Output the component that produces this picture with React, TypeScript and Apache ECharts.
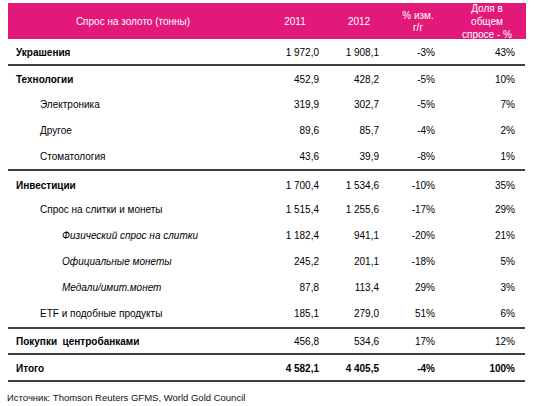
import React, { useEffect, useRef } from "react";
import * as echarts from "echarts";

const headerLabels = ["Спрос на золото (тонны)", "2011", "2012", "% изм.\nг/г", "Доля в\nобщем\nспросе - %"];
const categories = [
  "Украшения",
  "Технологии",
  "Электроника",
  "Другое",
  "Стоматология",
  "Инвестиции",
  "Спрос на слитки и монеты",
  "Физический спрос на слитки",
  "Официальные монеты",
  "Медали/имит.монет",
  "ETF и подобные продукты",
  "Покупки  центробанками",
  "Итого",
];
const levels = [0, 0, 1, 1, 1, 0, 1, 2, 2, 2, 1, 0, 0];
const values2011 = [1972.0, 452.9, 319.9, 89.6, 43.6, 1700.4, 1515.4, 1182.4, 245.2, 87.8, 185.1, 456.8, 4582.1];
const values2012 = [1908.1, 428.2, 302.7, 85.7, 39.9, 1534.6, 1255.6, 941.1, 201.1, 113.4, 279.0, 534.6, 4405.5];
const changePct = [-3, -5, -5, -4, -8, -10, -17, -20, -18, 29, 51, 17, -4];
const sharePct = [43, 10, 7, 2, 1, 35, 29, 21, 5, 3, 6, 12, 100];
const totalRowIndex = 12;
const sourceNote = "Источник: Thomson Reuters GFMS, World Gold Council";

const fmtNum = (v: number) => {
  const [i, d] = v.toFixed(1).split(".");
  return i.replace(/\B(?=(\d{3})+(?!\d))/g, " ") + "," + d;
};
const fmtPct = (v: number) => `${v}%`;

// layout
const ROW_Y = [52, 79, 104.5, 130.5, 156.5, 185, 209, 235, 261, 287, 313.5, 341.5, 368];
const RULE_Y = [65, 170, 328, 354, 381];
const COL_RIGHT = [319, 379, 435, 515];
const HEADER_X = [133, 295, 359, 418, 487];
const INDENT_X = [16, 40, 62];
const FONT = 'Arial, "Liberation Sans", sans-serif';
const PINK = "#E2197A";

function txt(x: number, y: number, text: string, opts: any = {}) {
  const align = opts.align || "left";
  return {
    type: "text",
    x,
    y,
    silent: true,
    style: {
      text,
      fill: opts.fill || "#000",
      font: `${opts.italic ? "italic " : ""}${opts.bold ? "bold " : ""}${opts.size || 10}px ${FONT}`,
      align,
      textAlign: align,
      verticalAlign: "middle",
      textVerticalAlign: "middle",
      lineHeight: opts.lineHeight || 12.5,
    },
  };
}

export default function App() {
  const ref = useRef<HTMLDivElement>(null);
  useEffect(() => {
    if (!ref.current) return;
    const chart = echarts.init(ref.current, undefined, { renderer: "svg" });
    const els: any[] = [];
    els.push({ type: "rect", silent: true, shape: { x: 8, y: 3, width: 518, height: 36 }, style: { fill: PINK } });
    headerLabels.forEach((h, i) => {
      els.push(txt(HEADER_X[i], 21, h, { align: "center", fill: "#fff", lineHeight: i === 4 ? 13 : 12 }));
    });
    // spell-check wavy underline under "изм."
    const wave: number[][] = [];
    for (let k = 0; k <= 12; k++) wave.push([410 + k * 2, k % 2 === 0 ? 19.5 : 21]);
    els.push({ type: "polyline", silent: true, shape: { points: wave }, style: { stroke: "#e03030", lineWidth: 0.8, fill: null } });

    categories.forEach((c, i) => {
      const y = ROW_Y[i];
      const lvl = levels[i];
      els.push(txt(INDENT_X[lvl], y, c, { bold: lvl === 0, italic: lvl === 2 }));
      const b = i === totalRowIndex;
      els.push(txt(COL_RIGHT[0], y, fmtNum(values2011[i]), { align: "right", bold: b }));
      els.push(txt(COL_RIGHT[1], y, fmtNum(values2012[i]), { align: "right", bold: b }));
      els.push(txt(COL_RIGHT[2], y, fmtPct(changePct[i]), { align: "right", bold: b }));
      els.push(txt(COL_RIGHT[3], y, fmtPct(sharePct[i]), { align: "right", bold: b }));
    });
    RULE_Y.forEach((y) => {
      els.push({ type: "line", silent: true, shape: { x1: 8, y1: y, x2: 525, y2: y }, style: { stroke: "#000", lineWidth: 1.5 } });
    });
    els.push(txt(7, 397.5, sourceNote, { fill: "#111", size: 9.5 }));

    chart.setOption({ animation: false, graphic: { elements: els } });
    return () => chart.dispose();
  }, []);
  return (
    <div
      ref={ref}
      style={{ position: "fixed", left: 0, top: 0, width: 534, height: 406, background: "#fff" }}
    />
  );
}
